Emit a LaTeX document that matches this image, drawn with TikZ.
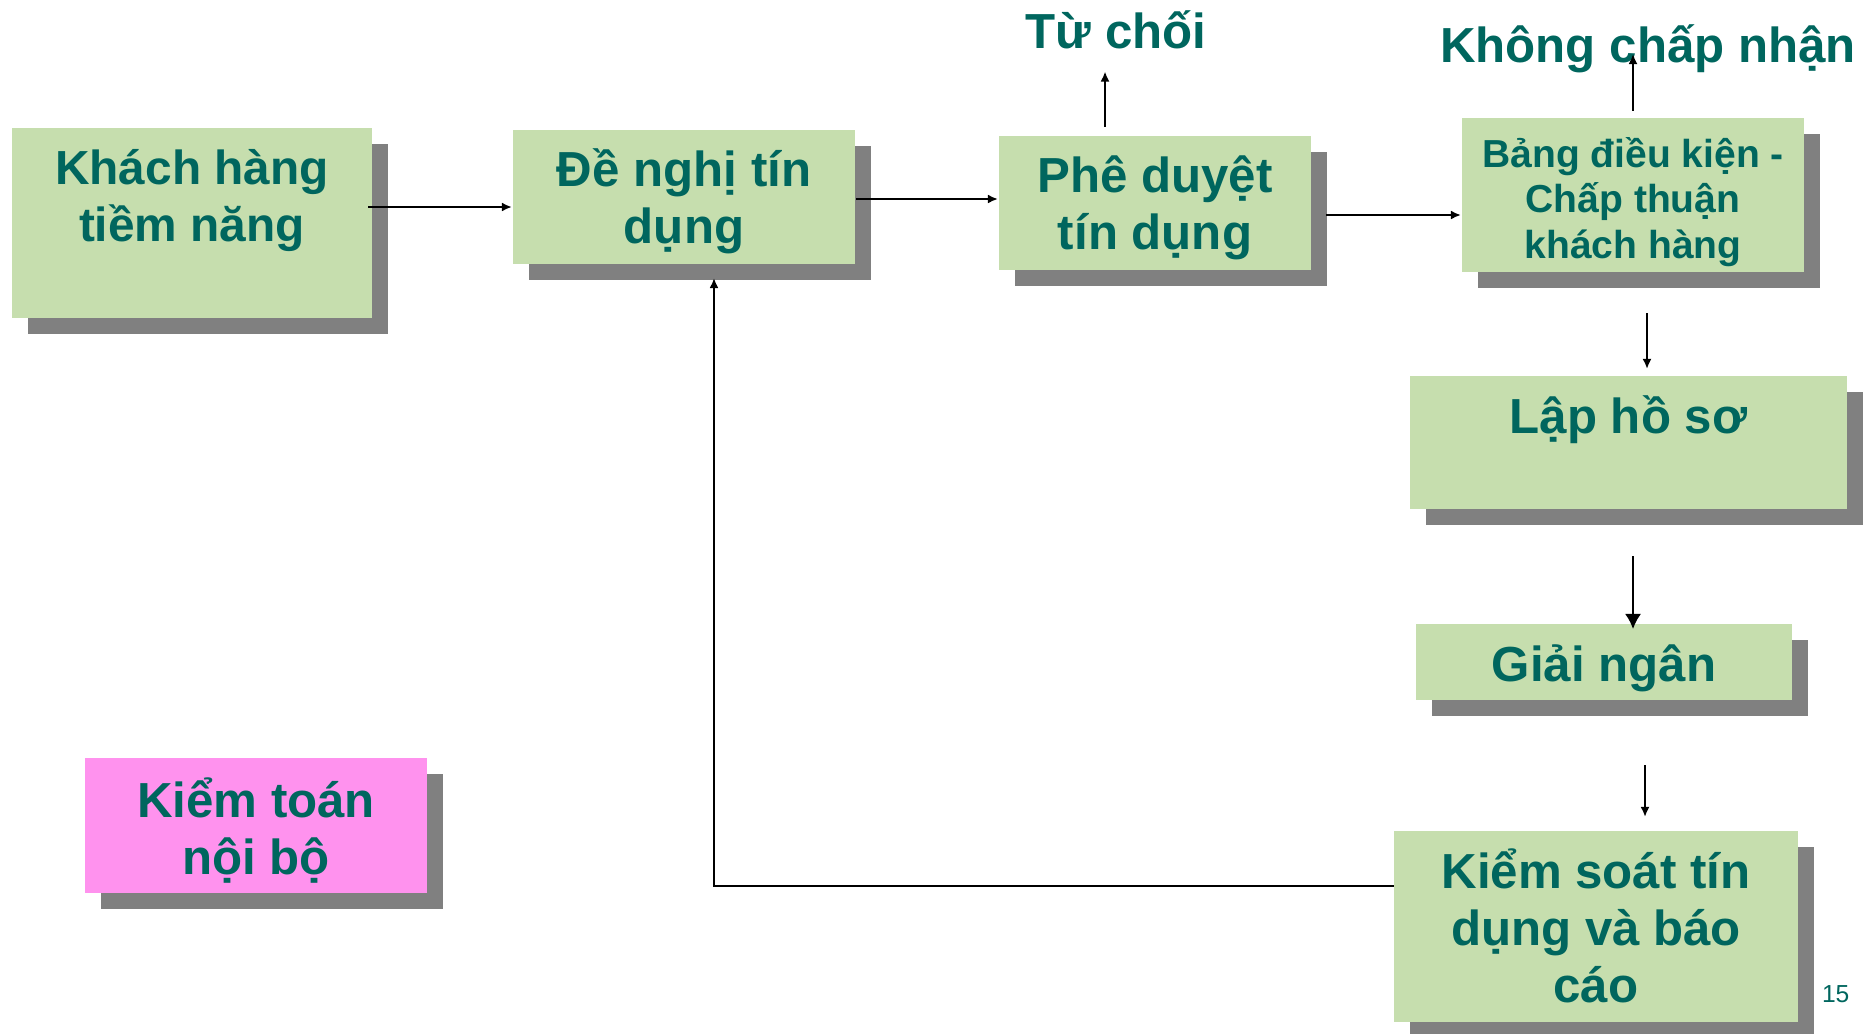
\documentclass[tikz,border=0pt]{standalone}
\usepackage{fontspec}
\setmainfont{Liberation Sans}
\usetikzlibrary{arrows.meta,shadows}
\definecolor{boxgreen}{HTML}{C6DEAE}
\definecolor{boxpink}{HTML}{FF92EE}
\definecolor{txtteal}{HTML}{00665E}
\definecolor{shgray}{HTML}{808080}
\begin{document}
\begin{tikzpicture}[x=0.01cm,y=-0.01cm,line width=0.57pt,>={Latex[length=1mm,width=0.9mm]}]
  \def\sh{0.16cm}	% shadow offset
  \tikzstyle{block}=[rectangle,fill=boxgreen,inner sep=0.5mm,align=center,text=txtteal,
    font=\fontsize{14}{16.2}\selectfont\bfseries,text depth=3pt,
    drop shadow={shadow xshift=\sh,shadow yshift=-\sh,fill=shgray,opacity=1}]
  \tikzstyle{head}=[inner sep=0pt,text=txtteal,font=\fontsize{14}{16.8}\selectfont\bfseries]
  \useasboundingbox (0,0) rectangle (1870,1033);

  \node[block,minimum width=3.6cm,minimum height=1.9cm,text height=13.6pt,font=\fontsize{13.6}{16.2}\selectfont\bfseries] (kh) at (192,223) {Khách hàng\\tiềm năng};
  \node[block,minimum width=3.42cm,minimum height=1.34cm,text height=29.7pt] (de) at (684,197) {Đề nghị tín\\dụng};
  \node[block,minimum width=3.12cm,minimum height=1.34cm,text height=29.6pt] (pd) at (1155,203) {Phê duyệt\\tín dụng};
  \node[block,minimum width=3.42cm,minimum height=1.54cm,text height=36.9pt,text depth=1pt,font=\fontsize{11.1}{12.9}\selectfont\bfseries] (bk) at (1633,195) {Bảng điều kiện -\\Chấp thuận\\khách hàng};
  \node[block,minimum width=4.37cm,minimum height=1.33cm,text height=0.6pt,text depth=6pt] (lap) at (1628.5,442.5) {Lập hồ sơ};
  \node[block,minimum width=3.76cm,minimum height=0.76cm,text height=14.2pt] (gn) at (1604,662) {Giải ngân};
  \node[block,minimum width=4.04cm,minimum height=1.91cm,text height=46pt] (ks) at (1596,926.5) {Kiểm soát tín\\dụng và báo\\cáo};
  \node[block,fill=boxpink,minimum width=3.42cm,minimum height=1.35cm,text height=30.6pt] (kt) at (256,825.5) {Kiểm toán\\nội bộ};

  \node[head,anchor=base] (tc) at (1116,48) {Từ chối};
  \node[head,anchor=base] (kcn) at (1648,62) {Không chấp nhận};
  \node[inner sep=0pt,anchor=base west,text=txtteal,font=\fontsize{7}{8}\selectfont] (pg) at (1821,1002) {15};

  % main row
  \coordinate (a1) at ([shift={(-5,-16)}]kh.east);
  \draw[->] (a1) -- (a1 -| de.west);
  \coordinate (a2) at ([yshift=-0.02cm]de.east);
  \draw[->] (a2) -- (a2 -| pd.west);
  \coordinate (a3) at ([shift={(14,12)}]pd.east);
  \draw[->] (a3) -- (a3 -| bk.west);
  % refusals
  \coordinate (a4) at ([shift={(-50,-8)}]pd.north);
  \draw[->,shorten >=0.22cm] (a4) -- (a4 |- tc.south);
  \coordinate (a5) at ([yshift=0.06cm]bk.north);
  \draw[->,shorten >=-0.08cm] (a5) -- (a5 |- kcn.base);
  % right column
  \coordinate (a6) at ([shift={(14,40)}]bk.south);
  \draw[->,shorten >=0.06cm] (a6) -- (a6 |- lap.north);
  \coordinate (a7) at ([shift={(4.5,46)}]lap.south);
  \draw[-{Latex[length=1.5mm,width=1.6mm]},shorten >=-0.06cm] (a7) -- (a7 |- gn.north);
  \coordinate (a8) at ([shift={(41,64)}]gn.south);
  \draw[->,shorten >=0.13cm] (a8) -- (a8 |- ks.north);
  % back to the request
  \coordinate (a9) at ([shift={(1,-41)}]ks.west);
  \coordinate (a9e) at ([shift={(30,13)}]de.south);
  \draw[->] (a9) -| (a9e);
\end{tikzpicture}
\end{document}
